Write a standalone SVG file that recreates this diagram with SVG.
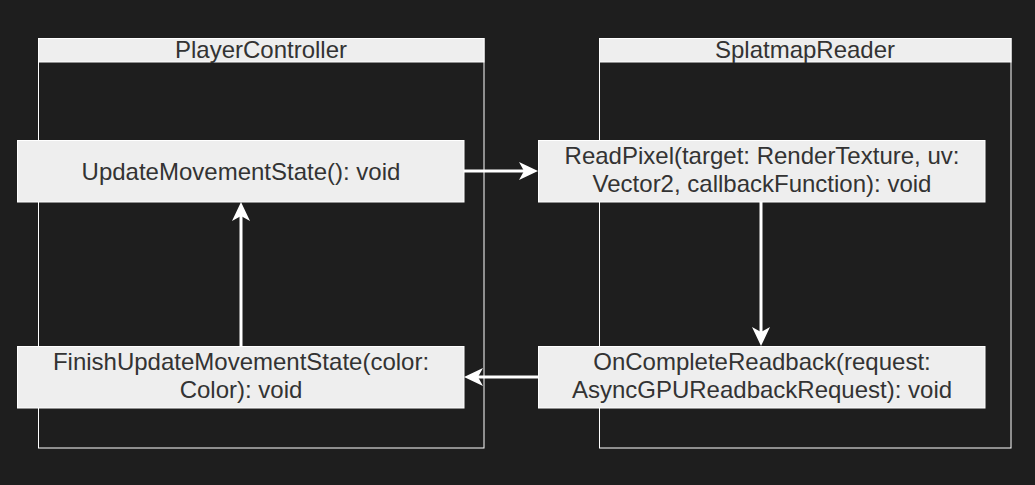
<svg xmlns="http://www.w3.org/2000/svg" width="1035" height="485" viewBox="0 0 1035 485">
<style>
.lane{fill:none;stroke:#ffffff;stroke-width:1}
.hdr{fill:#eeeeee;stroke:#ffffff;stroke-width:1}
.box{fill:#eeeeee;stroke:#ffffff;stroke-width:1}
.t{font-family:"Liberation Sans",Arial,sans-serif;font-size:24px;fill:#333333;text-anchor:middle}
.edge{fill:none;stroke:#ffffff;stroke-width:3}
</style>
<defs>
<marker id="arr" markerUnits="userSpaceOnUse" markerWidth="20" markerHeight="20" viewBox="-20 -10 20 20" refX="-10" refY="0" orient="auto">
<path d="M0,0 L-19,-9 L-14,0 L-19,9 Z" fill="#ffffff"/>
</marker>
</defs>
<rect width="1035" height="485" fill="#1e1e1e"/>
<g id="lane-player">
<rect class="lane" x="38.5" y="38.5" width="445.5" height="409.5"/>
<rect class="hdr" x="38.5" y="38.5" width="445.5" height="23.5"/>
<text class="t" x="261" y="58">PlayerController</text>
</g>
<g id="lane-splatmap">
<rect class="lane" x="599.5" y="38.5" width="411.5" height="409.5"/>
<rect class="hdr" x="599.5" y="38.5" width="411.5" height="23.5"/>
<text class="t" x="805" y="58">SplatmapReader</text>
</g>
<g id="update">
<rect class="box" x="17.5" y="140.5" width="446.5" height="61.5"/>
<text class="t" x="241" y="180">UpdateMovementState(): void</text>
</g>
<g id="readpixel">
<rect class="box" x="538.5" y="140.5" width="446.5" height="61.5"/>
<text class="t" x="762" y="164">ReadPixel(target: RenderTexture, uv:</text>
<text class="t" x="762" y="192">Vector2, callbackFunction): void</text>
</g>
<g id="oncomplete">
<rect class="box" x="538.5" y="346.5" width="446.5" height="61.5"/>
<text class="t" x="762" y="370">OnCompleteReadback(request:</text>
<text class="t" x="762" y="398">AsyncGPUReadbackRequest): void</text>
</g>
<g id="finish">
<rect class="box" x="17.5" y="346.5" width="446.5" height="61.5"/>
<text class="t" x="241" y="370">FinishUpdateMovementState(color:</text>
<text class="t" x="241" y="398">Color): void</text>
</g>
<g id="connectors">
<path class="edge" d="M464,171 L528,171" marker-end="url(#arr)"/>
<path class="edge" d="M761,202 L761,336" marker-end="url(#arr)"/>
<path class="edge" d="M538,377 L474,377" marker-end="url(#arr)"/>
<path class="edge" d="M241,346 L241,212" marker-end="url(#arr)"/>
</g>
</svg>
